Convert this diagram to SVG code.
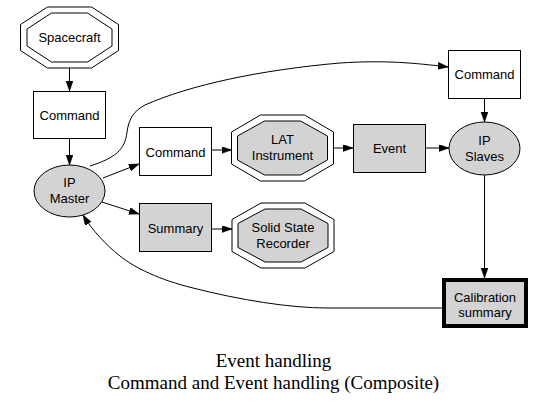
<svg xmlns="http://www.w3.org/2000/svg" width="543" height="407" viewBox="0 0 543 407">
<style>
.n{fill:#fff;stroke:#000;stroke-width:1}
.g{fill:#d3d3d3;stroke:#000;stroke-width:1}
.b{fill:#d3d3d3;stroke:#000;stroke-width:4}
.t{font-family:"Liberation Sans",Arial,sans-serif;font-size:13px;fill:#000;text-anchor:middle}
.c{font-family:"Liberation Serif","Times New Roman",serif;font-size:19px;fill:#000;text-anchor:middle}
.e{fill:none;stroke:#000;stroke-width:1}
</style>
<defs>
<marker id="ah" markerUnits="userSpaceOnUse" markerWidth="11" markerHeight="8" refX="10" refY="3.5" orient="auto">
<path d="M0,0 L10,3.5 L0,7 z" fill="#000" stroke="#000" stroke-width="0.5"/>
</marker>
</defs>
<rect width="543" height="407" fill="#fff"/>

<g id="connectors">
<path class="e" marker-end="url(#ah)" d="M69.5,68 L69.5,91"/>
<path class="e" marker-end="url(#ah)" d="M69.5,138 L69.5,165"/>
<path class="e" marker-end="url(#ah)" d="M103,178 L139,164"/>
<path class="e" marker-end="url(#ah)" d="M102,202 L139,214"/>
<path class="e" marker-end="url(#ah)" d="M211,150 L231.5,150"/>
<path class="e" marker-end="url(#ah)" d="M333.5,148 L353,148"/>
<path class="e" marker-end="url(#ah)" d="M426,148 L449,148"/>
<path class="e" marker-end="url(#ah)" d="M484.5,98 L484.5,122"/>
<path class="e" marker-end="url(#ah)" d="M484.5,175 L484.5,278"/>
<path class="e" marker-end="url(#ah)" d="M212,229 L232,229"/>
<path class="e" marker-end="url(#ah)" d="M90,166 C115,158 125,150 127,132 C129,118 134,111 145,105 C190,85 260,70 340,63 C385,60 415,63 448,67"/>
<path class="e" marker-end="url(#ah)" d="M442,308 L327,308 C290,308 240,300 193,288 C160,280 135,268 120,256 C106,245 92,230 83,215"/>
</g>

<g id="spacecraft">
<polygon class="n" points="47.5,7 91.5,7 118.5,24.5 118.5,50.5 91.5,68 47.5,68 20.5,50.5 20.5,24.5"/>
<polygon class="n" points="51.5,13 87.5,13 112,29 112,46 87.5,62 51.5,62 27,46 27,29"/>
<text class="t" x="69.5" y="42">Spacecraft</text>
</g>

<g id="command1">
<rect class="n" x="33.5" y="91.5" width="72" height="47"/>
<text class="t" x="69.5" y="120">Command</text>
</g>

<g id="ipmaster">
<ellipse class="g" cx="69.5" cy="191" rx="35.5" ry="26"/>
<text class="t" x="69.5" y="186.5">IP</text>
<text class="t" x="69.5" y="202.5">Master</text>
</g>

<g id="command2">
<rect class="n" x="139.5" y="127.5" width="72" height="48"/>
<text class="t" x="175.5" y="156.5">Command</text>
</g>

<g id="lat">
<polygon class="n" points="260.5,115 304.5,115 333.5,132 333.5,164 304.5,181 260.5,181 231.5,164 231.5,132"/>
<polygon class="g" points="264.5,121 300.5,121 327.5,136 327.5,160 300.5,175 264.5,175 237.5,160 237.5,136"/>
<text class="t" x="282.5" y="144">LAT</text>
<text class="t" x="282.5" y="160">Instrument</text>
</g>

<g id="event">
<rect class="g" x="353.5" y="124.5" width="72" height="48"/>
<text class="t" x="389.5" y="153">Event</text>
</g>

<g id="command3">
<rect class="n" x="448.5" y="50.5" width="72" height="48"/>
<text class="t" x="484.5" y="79">Command</text>
</g>

<g id="ipslaves">
<ellipse class="g" cx="484.5" cy="148.5" rx="35.5" ry="26.5"/>
<text class="t" x="484.5" y="144.5">IP</text>
<text class="t" x="484.5" y="160.5">Slaves</text>
</g>

<g id="summary">
<rect class="g" x="139.5" y="203.5" width="72" height="48"/>
<text class="t" x="175.5" y="232.5">Summary</text>
</g>

<g id="ssr">
<polygon class="n" points="261,203 305,203 334,219.5 334,251.5 305,268 261,268 232,251.5 232,219.5"/>
<polygon class="g" points="265,209 301,209 328,223.5 328,247.5 301,262 265,262 238,247.5 238,223.5"/>
<text class="t" x="283" y="231.5">Solid State</text>
<text class="t" x="283" y="248">Recorder</text>
</g>

<g id="calibration">
<rect class="b" x="444" y="280" width="82" height="46"/>
<text class="t" x="485" y="301.5">Calibration</text>
<text class="t" x="485" y="317">summary</text>
</g>

<g id="caption">
<text class="c" x="273.5" y="367">Event handling</text>
<text class="c" x="273.5" y="389">Command and Event handling (Composite)</text>
</g>
</svg>
